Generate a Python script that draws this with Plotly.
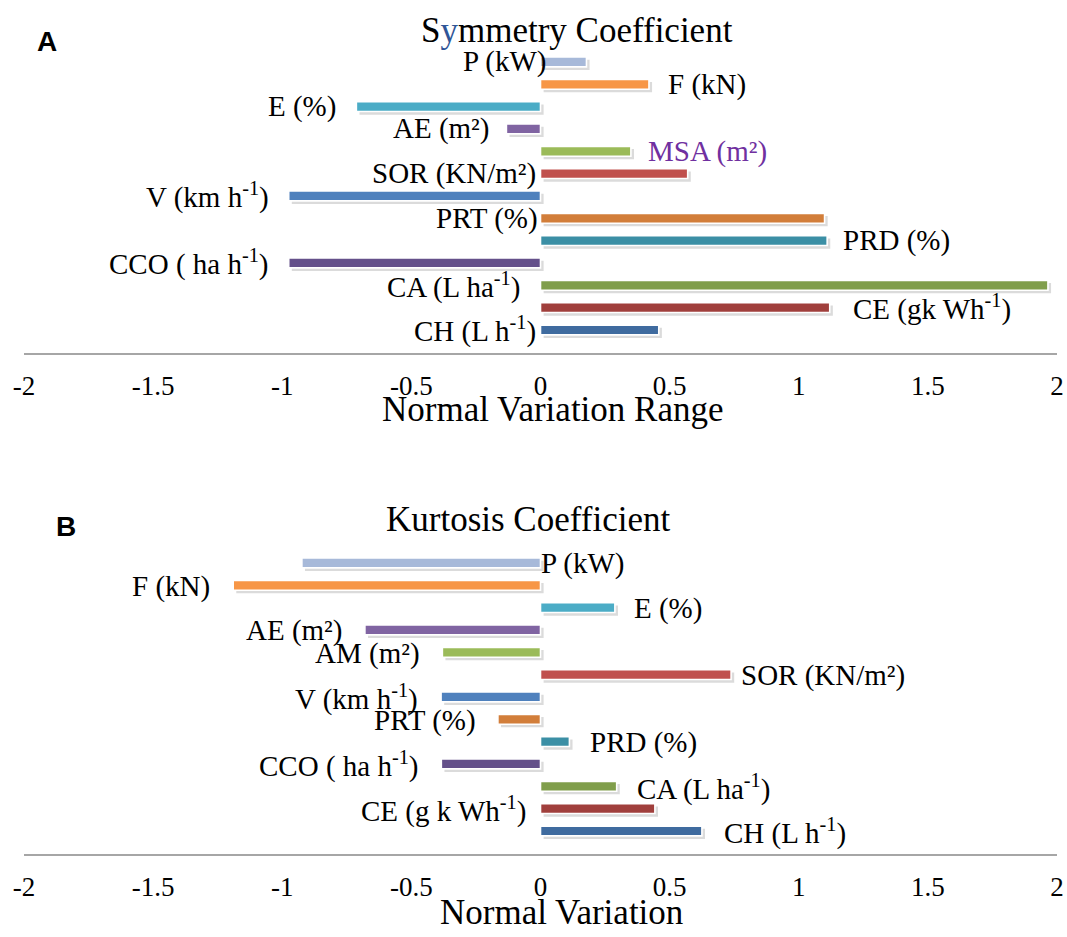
import plotly.graph_objects as go

# ---------------- data ----------------
sym_labels = ["P (kW)", "F (kN)", "E (%)", "AE (m²)", "MSA (m²)", "SOR (KN/m²)",
              "V (km h<sup>-1</sup>)", "PRT (%)", "PRD (%)", "CCO ( ha h<sup>-1</sup>)",
              "CA (L ha<sup>-1</sup>)", "CE (gk Wh<sup>-1</sup>)", "CH (L h<sup>-1</sup>)"]
sym_values = [0.178, 0.42, -0.713, -0.132, 0.35, 0.57, -0.975, 1.10, 1.11, -0.975, 1.965, 1.12, 0.458]

kur_labels = ["P (kW)", "F (kN)", "E (%)", "AE (m²)", "AM (m²)", "SOR (KN/m²)",
              "V (km h<sup>-1</sup>)", "PRT (%)", "PRD (%)", "CCO ( ha h<sup>-1</sup>)",
              "CA (L ha<sup>-1</sup>)", "CE (g k Wh<sup>-1</sup>)", "CH (L h<sup>-1</sup>)"]
kur_values = [-0.924, -1.19, 0.288, -0.68, -0.38, 0.738, -0.385, -0.165, 0.112, -0.384, 0.295, 0.443, 0.625]

tick_vals = [-2, -1.5, -1, -0.5, 0, 0.5, 1, 1.5, 2]
tick_text = ["-2", "-1.5", "-1", "-0.5", "0", "0.5", "1", "1.5", "2"]

# ---------------- styles ----------------
colors = ["#A7B9D9", "#F79646", "#4BACC6", "#8064A2", "#9BBB59", "#C0504D", "#4F81BD",
          "#D27E3A", "#3B8FA5", "#64508A", "#809E4B", "#A03F3C", "#3F6B9F"]

# label placement: ("end", shift px) -> beyond bar end ; ("zero", shift) -> at zero, opposite side
sym_place = [("zero", 8), ("end", 17), ("end", -18), ("end", -15), ("end", 15), ("zero", -3),
             ("end", -18), ("zero", -1), ("end", 14), ("end", -18), ("zero", -19), ("end", 21), ("zero", -3)]
kur_place = [("zero", -2), ("end", -21), ("end", 17), ("end", -21), ("end", -20), ("end", 8),
             ("end", -21), ("end", -20), ("end", 19), ("end", -20), ("end", 18), ("zero", -13), ("end", 20)]
sym_label_colors = ["black"] * 13
sym_label_colors[4] = "#7030A0"

SERIF = "Liberation Serif"
SANS = "Liberation Sans"
W, H = 1067, 937
n = len(sym_values)
pos = [n - 1 - i for i in range(n)]  # P at top, CH at bottom

fig = go.Figure()


def add_panel(values, labels, places, lcolors, xa, ya, yshift):
    # soft drop shadow
    fig.add_trace(go.Bar(
        orientation="h", y=[p - 0.13 for p in pos], x=values, base=0.012,
        width=0.46, marker=dict(color="rgba(90,90,90,0.22)", line=dict(width=0)),
        xaxis=xa, yaxis=ya, hoverinfo="skip", showlegend=False))
    fig.add_trace(go.Bar(
        orientation="h", y=pos, x=values, width=0.44,
        marker=dict(color=colors, line=dict(color="white", width=1.6)),
        xaxis=xa, yaxis=ya, showlegend=False))
    for v, lab, (mode, sh), p, c in zip(values, labels, places, pos, lcolors):
        if mode == "end":
            ax = v
            anchor = "left" if v >= 0 else "right"
        else:
            ax = 0
            anchor = "right" if v >= 0 else "left"
        fig.add_annotation(x=ax, y=p, xref=xa, yref=ya, text=lab, showarrow=False,
                           xanchor=anchor, yanchor="middle", xshift=sh, yshift=yshift,
                           font=dict(family=SERIF, size=29, color=c))


add_panel(sym_values, sym_labels, sym_place, sym_label_colors, "x", "y", 0)
add_panel(kur_values, kur_labels, kur_place, ["black"] * 13, "x2", "y2", -1)

xdom = [24 / W, 1057 / W]
ytop_dom = [1 - 353 / H, 1 - 50.8 / H]
ybot_dom = [1 - 854 / H, 1 - 551.8 / H]

xcommon = dict(range=[-2, 2], tickvals=tick_vals, ticktext=tick_text, showgrid=False,
               zeroline=False, showline=True, linecolor="#A6A6A6", linewidth=2,
               ticks="outside", ticklen=8, tickcolor="rgba(0,0,0,0)", automargin=False,
               tickfont=dict(family=SERIF, size=27, color="black"), domain=xdom, fixedrange=True)
ycommon = dict(range=[-1.03, 12.5], showticklabels=False, showgrid=False, zeroline=False,
               showline=False, ticks="", fixedrange=True, automargin=False)

fig.update_layout(
    width=W, height=H, margin=dict(l=0, r=0, t=0, b=0, autoexpand=False),
    paper_bgcolor="white", plot_bgcolor="white", barmode="overlay", showlegend=False,
    xaxis=dict(**xcommon, anchor="y"),
    yaxis=dict(**ycommon, domain=ytop_dom, anchor="x"),
    xaxis2=dict(**xcommon, anchor="y2"),
    yaxis2=dict(**ycommon, domain=ybot_dom, anchor="x2"),
)


def paper_text(x, y, text, size, family=SERIF):
    fig.add_annotation(x=x / W, y=1 - y / H, xref="paper", yref="paper", text=text,
                       showarrow=False, xanchor="center", yanchor="middle",
                       font=dict(family=family, size=size, color="black"))

paper_text(577, 31, "S<span style='color:#2F5597'>y</span>mmetry Coefficient", 35)
paper_text(528, 519, "Kurtosis Coefficient", 35)
paper_text(553, 409, "Normal Variation Range", 35)
paper_text(561, 912, "Normal Variation", 35)
paper_text(47, 41, "<b>A</b>", 28, family=SANS)
paper_text(66, 526, "<b>B</b>", 28, family=SANS)

fig.write_html("out.html")
